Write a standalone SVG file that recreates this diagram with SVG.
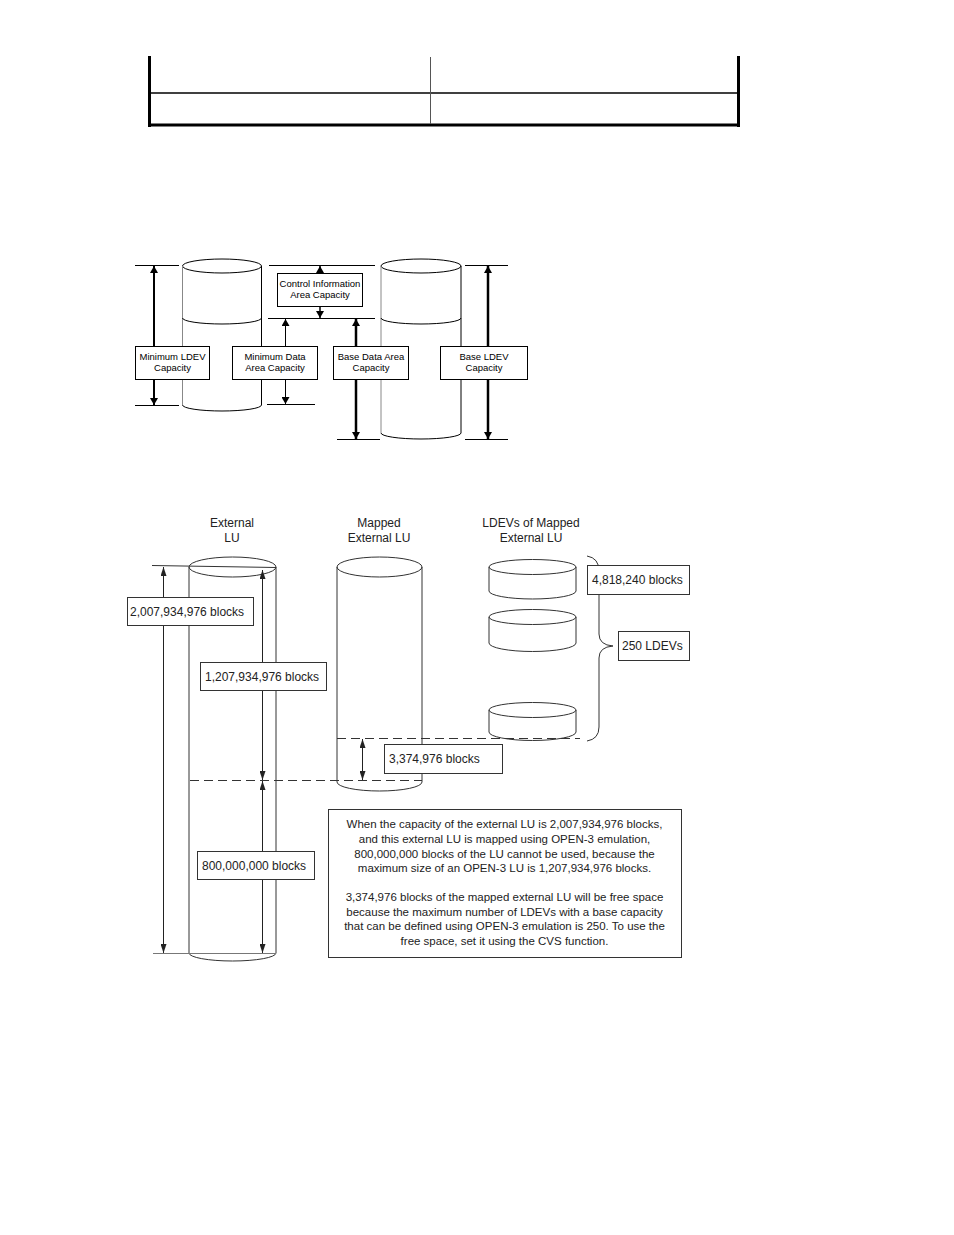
<svg xmlns="http://www.w3.org/2000/svg" width="954" height="1235" viewBox="0 0 954 1235">
<style>
.t9{font-family:"Liberation Sans",Arial,sans-serif;font-size:9.5px;fill:#000;text-anchor:middle}
.t12{font-family:"Liberation Sans",Arial,sans-serif;font-size:12px;fill:#222}
.tc{text-anchor:middle}
.tp{font-family:"Liberation Sans",Arial,sans-serif;font-size:11.5px;fill:#222;text-anchor:middle}
.bx{fill:#fff;stroke:#000;stroke-width:1}
.bx2{fill:#fff;stroke:#333;stroke-width:1}
.cyl{fill:none;stroke:#000;stroke-width:1}
.cylg{fill:none;stroke:#888;stroke-width:1}
.cyl2{fill:none;stroke:#333;stroke-width:1}
.ln{stroke:#000;stroke-width:1;fill:none}
.ln2{stroke:#333;stroke-width:1;fill:none}
.dash{stroke:#333;stroke-width:1;stroke-dasharray:9,5;fill:none}
</style>
<defs>
<marker id="at" viewBox="0 0 7 8" refX="7" refY="4" markerWidth="7" markerHeight="8" markerUnits="userSpaceOnUse" orient="auto-start-reverse"><path d="M0,0 L7,4 L0,8 z" fill="#000"/></marker>
<marker id="ab" viewBox="0 0 9 6" refX="9" refY="3" markerWidth="9" markerHeight="6" markerUnits="userSpaceOnUse" orient="auto-start-reverse"><path d="M0,0 L9,3 L0,6 z" fill="#222"/></marker>
</defs>
<rect width="954" height="1235" fill="#fff"/>

<g id="table" stroke="#000">
<line x1="149.5" y1="56" x2="149.5" y2="127" stroke-width="3"/>
<line x1="738.5" y1="56" x2="738.5" y2="127" stroke-width="3"/>
<line x1="148" y1="125" x2="740" y2="125" stroke-width="3"/>
<line x1="149" y1="93" x2="738" y2="93" stroke-width="1.5"/>
<line x1="430.5" y1="57" x2="430.5" y2="124" stroke-width="1" stroke="#555"/>
</g>

<!-- Top figure -->
<g id="cyl-min">
<ellipse cx="222" cy="266" rx="39.5" ry="7" class="cyl"/>
<line x1="182.5" y1="266" x2="182.5" y2="405" class="cylg"/>
<line x1="261.5" y1="266" x2="261.5" y2="405" class="cyl"/>
<path d="M182.5,318 A39.5,6 0 0 0 261.5,318" class="cyl"/>
<path d="M182.5,405 A39.5,6 0 0 0 261.5,405" class="cyl"/>
</g>
<g id="cyl-base">
<ellipse cx="421" cy="266" rx="40" ry="7" class="cyl"/>
<line x1="381" y1="266" x2="381" y2="433" class="cylg"/>
<line x1="461" y1="266" x2="461" y2="433" class="cyl"/>
<path d="M381,318 A40,6 0 0 0 461,318" class="cyl"/>
<path d="M381,433 A40,6 0 0 0 461,433" class="cyl"/>
</g>
<g id="top-connectors">
<line x1="135" y1="265.5" x2="179" y2="265.5" class="ln"/>
<line x1="135" y1="405.5" x2="179" y2="405.5" class="ln"/>
<line x1="269" y1="265.5" x2="375" y2="265.5" class="ln"/>
<line x1="268" y1="318.5" x2="375" y2="318.5" class="ln"/>
<line x1="267" y1="404.5" x2="315" y2="404.5" class="ln"/>
<line x1="337" y1="439.5" x2="380" y2="439.5" class="ln"/>
<line x1="465" y1="265.5" x2="508" y2="265.5" class="ln"/>
<line x1="465" y1="439.5" x2="508" y2="439.5" class="ln"/>
<line x1="154" y1="266" x2="154" y2="405" stroke="#000" stroke-width="2" marker-start="url(#at)" marker-end="url(#at)"/>
<line x1="320" y1="266" x2="320" y2="318" stroke="#000" stroke-width="1.5" marker-start="url(#at)" marker-end="url(#at)"/>
<line x1="285.5" y1="319" x2="285.5" y2="404" stroke="#000" stroke-width="1" marker-start="url(#at)" marker-end="url(#at)"/>
<line x1="356" y1="319" x2="356" y2="439" stroke="#000" stroke-width="2.5" marker-start="url(#at)" marker-end="url(#at)"/>
<line x1="488" y1="266" x2="488" y2="439" stroke="#000" stroke-width="2.5" marker-start="url(#at)" marker-end="url(#at)"/>
</g>
<g id="box-minldev">
<rect x="135.5" y="346.5" width="74" height="33" class="bx"/>
<text x="172.5" y="360" class="t9">Minimum LDEV</text>
<text x="172.5" y="370.5" class="t9">Capacity</text>
</g>
<g id="box-ctrl">
<rect x="277.5" y="273.5" width="85" height="33" class="bx"/>
<text x="320" y="287" class="t9">Control Information</text>
<text x="320" y="297.5" class="t9">Area Capacity</text>
</g>
<g id="box-mindata">
<rect x="232.5" y="346.5" width="85" height="33" class="bx"/>
<text x="275" y="360" class="t9">Minimum Data</text>
<text x="275" y="370.5" class="t9">Area Capacity</text>
</g>
<g id="box-basedata">
<rect x="333.5" y="346.5" width="75" height="33" class="bx"/>
<text x="371" y="360" class="t9">Base Data Area</text>
<text x="371" y="370.5" class="t9">Capacity</text>
</g>
<g id="box-baseldev">
<rect x="440.5" y="346.5" width="87" height="33" class="bx"/>
<text x="484" y="360" class="t9">Base LDEV</text>
<text x="484" y="370.5" class="t9">Capacity</text>
</g>

<!-- Bottom figure -->
<g id="hdr-ext">
<text x="232" y="527" class="t12 tc">External</text>
<text x="232" y="542" class="t12 tc">LU</text>
</g>
<g id="hdr-mapped">
<text x="379" y="527" class="t12 tc">Mapped</text>
<text x="379" y="542" class="t12 tc">External LU</text>
</g>
<g id="hdr-ldevs">
<text x="531" y="527" class="t12 tc">LDEVs of Mapped</text>
<text x="531" y="542" class="t12 tc">External LU</text>
</g>

<g id="cyl-external">
<ellipse cx="232.5" cy="567" rx="43.5" ry="10" class="cyl2"/>
<line x1="189" y1="567" x2="189" y2="953" class="cyl2"/>
<line x1="276" y1="567" x2="276" y2="953" class="cyl2"/>
<path d="M189,953 A43.5,8 0 0 0 276,953" class="cyl2"/>
</g>
<g id="cyl-mapped">
<ellipse cx="379.5" cy="567" rx="42.5" ry="10" class="cyl2"/>
<line x1="337" y1="567" x2="337" y2="782" class="cyl2"/>
<line x1="422" y1="567" x2="422" y2="782" class="cyl2"/>
<path d="M337,782 A42.5,9 0 0 0 422,782" class="cyl2"/>
</g>
<g id="ldev1">
<ellipse cx="532.5" cy="567" rx="43.5" ry="7.5" class="cyl2"/>
<line x1="489" y1="567" x2="489" y2="591" class="cyl2"/>
<line x1="576" y1="567" x2="576" y2="591" class="cyl2"/>
<path d="M489,591 A43.5,8 0 0 0 576,591" class="cyl2"/>
</g>
<g id="ldev2">
<ellipse cx="532.5" cy="617" rx="43.5" ry="7.5" class="cyl2"/>
<line x1="489" y1="617" x2="489" y2="643" class="cyl2"/>
<line x1="576" y1="617" x2="576" y2="643" class="cyl2"/>
<path d="M489,643 A43.5,8.5 0 0 0 576,643" class="cyl2"/>
</g>
<g id="ldev3">
<ellipse cx="532.5" cy="710" rx="43.5" ry="7.5" class="cyl2"/>
<line x1="489" y1="710" x2="489" y2="732" class="cyl2"/>
<line x1="576" y1="710" x2="576" y2="732" class="cyl2"/>
<path d="M489,732 A43.5,8.5 0 0 0 576,732" class="cyl2"/>
</g>

<g id="bottom-connectors">
<line x1="152" y1="565.5" x2="276" y2="567.5" class="ln2"/>
<line x1="153" y1="953.5" x2="276" y2="953.5" stroke="#777" stroke-width="1"/>
<line x1="163.5" y1="567" x2="163.5" y2="953" stroke="#222" stroke-width="1" marker-start="url(#ab)" marker-end="url(#ab)"/>
<line x1="262.5" y1="570" x2="262.5" y2="780" stroke="#222" stroke-width="1" marker-start="url(#ab)" marker-end="url(#ab)"/>
<line x1="262.5" y1="781" x2="262.5" y2="953" stroke="#222" stroke-width="1" marker-start="url(#ab)" marker-end="url(#ab)"/>
<line x1="362.5" y1="739" x2="362.5" y2="780" stroke="#222" stroke-width="1" marker-start="url(#ab)" marker-end="url(#ab)"/>
<line x1="190" y1="780.5" x2="422" y2="780.5" class="dash"/>
<line x1="337" y1="738.5" x2="580" y2="738.5" class="dash"/>
<path d="M587,556 Q599,558 599,571 L599,634 Q599,645 613,646 Q599,647 599,658 L599,727 Q599,739 587,741" class="ln2"/>
</g>

<g id="box-2007">
<rect x="127.5" y="597.5" width="126" height="28" class="bx2"/>
<text x="130" y="615.5" class="t12">2,007,934,976 blocks</text>
</g>
<g id="box-1207">
<rect x="200.5" y="662.5" width="126" height="28" class="bx2"/>
<text x="205" y="680.5" class="t12">1,207,934,976 blocks</text>
</g>
<g id="box-800">
<rect x="197.5" y="851.5" width="117" height="28" class="bx2"/>
<text x="202" y="869.5" class="t12">800,000,000 blocks</text>
</g>
<g id="box-3374">
<rect x="384.5" y="744.5" width="118" height="29" class="bx2"/>
<text x="389" y="762.5" class="t12">3,374,976 blocks</text>
</g>
<g id="box-4818">
<rect x="587.5" y="565.5" width="102" height="29" class="bx2"/>
<text x="592" y="583.5" class="t12">4,818,240 blocks</text>
</g>
<g id="box-250">
<rect x="618.5" y="631.5" width="71" height="29" class="bx2"/>
<text x="622" y="650" class="t12">250 LDEVs</text>
</g>
<g id="note">
<rect x="328.5" y="809.5" width="353" height="148" class="bx2"/>
<text x="504.5" y="828" class="tp">When the capacity of the external LU is 2,007,934,976 blocks,</text>
<text x="504.5" y="843" class="tp">and this external LU is mapped using OPEN-3 emulation,</text>
<text x="504.5" y="857.5" class="tp">800,000,000 blocks of the LU cannot be used, because the</text>
<text x="504.5" y="872" class="tp">maximum size of an OPEN-3 LU is 1,207,934,976 blocks.</text>
<text x="504.5" y="901" class="tp">3,374,976 blocks of the mapped external LU will be free space</text>
<text x="504.5" y="915.5" class="tp">because the maximum number of LDEVs with a base capacity</text>
<text x="504.5" y="930" class="tp">that can be defined using OPEN-3 emulation is 250. To use the</text>
<text x="504.5" y="944.5" class="tp">free space, set it using the CVS function.</text>
</g>
</svg>
